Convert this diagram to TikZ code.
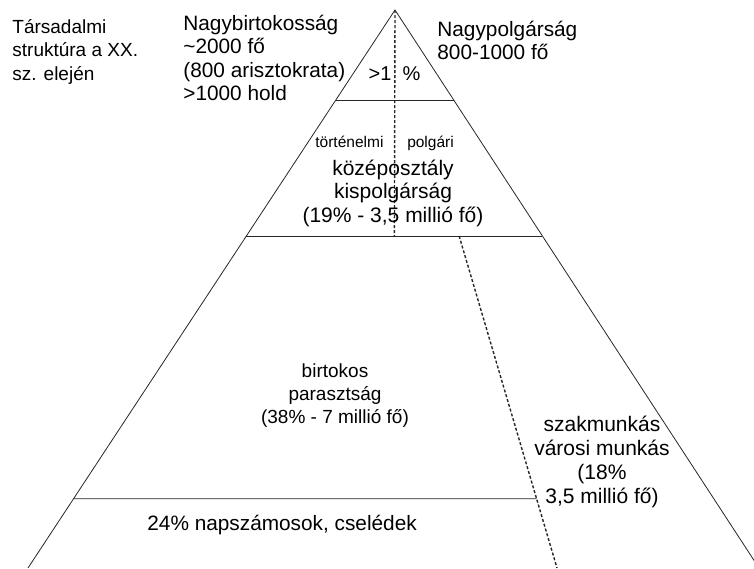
\documentclass[tikz,border=0pt]{standalone}
\usepackage{fontspec}
\setmainfont{Liberation Sans}
\usetikzlibrary{positioning}
\usetikzlibrary{calc}
\tikzset{every node/.style={inner sep=0pt}}
\tikzset{txt/.style={font=\fontsize{20.8}{23.5}\selectfont, align=center, anchor=base}}
\tikzset{note/.style={font=\fontsize{15.5}{18}\selectfont, anchor=base west}}
\tikzset{divide/.style={densely dashed, line width=1.4pt}}

\begin{document}
\begin{tikzpicture}[x=1pt, y=-1pt, line width=0.8pt, draw=black!85]
    \useasboundingbox (0,0) rectangle (754,568);
    \clip (0,0) rectangle (754,568);
    \coordinate (top) at (395,10);
    \coordinate (bl) at (28,568);
    \coordinate (br) at (759,568);
    \coordinate (l1) at ($(top)!0.1613!(bl)$);
    \coordinate (r1) at ($(top)!0.1613!(br)$);
    \coordinate (l2) at ($(top)!0.405!(bl)$);
    \coordinate (r2) at ($(top)!0.405!(br)$);
    \coordinate (l3) at ($(top)!0.876!(bl)$);
    \coordinate (r3) at ($(top)!0.876!(br)$);
    \coordinate (m2) at ($(l2)!0.5!(r2)$);
    \coordinate (d1) at ($(l2)!0.7187!(r2)$);
    \coordinate (d2) at (557,568);
    \coordinate (x3) at (intersection of l3--r3 and d1--d2);
    \draw (bl) -- (top) -- (br);
    \draw (l1) -- (r1);
    \draw (l2) -- (r2);
    \draw (l3) -- (x3);
    \draw[divide] (top) -- (m2);
    \draw[divide] (d1) -- (d2);
    % texts (base = last line)
    \node[txt, anchor=base west, align=left, font=\fontsize{19}{23.5}\selectfont] (title) at (12,80) {Társadalmi\\struktúra a XX.\\sz. elején};
    \node[txt, anchor=base west, align=left] (nagyb) at (183,100.5) {Nagybirtokosság\\\textasciitilde2000 fő\\(800 arisztokrata)\\>1000 hold};
    \node[txt, anchor=base west, align=left] (nagyp) at (437,59.5) {Nagypolgárság\\800-1000 fő};
    \node[txt, font=\fontsize{20}{23.5}\selectfont] (elit) at (394.5,80) {>1\ \ \%};
    \node[note] (tort) at (315,147) {történelmi};
    \node[note, base right=23pt of tort] (polg) {polgári};
    \node[txt, font=\fontsize{21}{23.5}\selectfont] (kozep) at (393,222) {középosztály\\kispolgárság\\(19\% - 3,5 millió fő)};
    \node[txt, font=\fontsize{19}{23}\selectfont] (birt) at (335,423) {birtokos\\parasztság\\(38\% - 7 millió fő)};
    \node[txt, font=\fontsize{21}{24}\selectfont] (szak) at (602,503) {szakmunkás\\városi munkás\\(18\%\\3,5 millió fő)};
    \node[txt, anchor=base west] (napsz) at (147,530) {24\% napszámosok, cselédek};
\end{tikzpicture}
\end{document}
